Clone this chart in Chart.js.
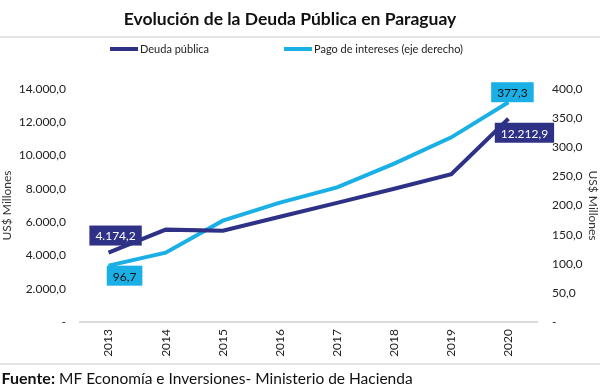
<!DOCTYPE html>
<html>
<head>
<meta charset="utf-8">
<script src="https://cdn.jsdelivr.net/npm/chart.js@4"></script>
<style>
  html, body { margin: 0; padding: 0; background: #fff; }
  #wrap { width: 600px; height: 389px; position: relative; overflow: hidden; }
</style>
</head>
<body>
<div id="wrap"><canvas id="chart"></canvas></div>
<script>
// data
const years = ['2013', '2014', '2015', '2016', '2017', '2018', '2019', '2020'];
const deuda = [4174.2, 5550, 5480, 6320, 7160, 8010, 8880, 12212.9];
const intereses = [96.7, 119, 174, 205, 231, 272, 317, 377.3];

const navy = '#2e3185';
const sky = '#1ab0e6';
const font = 'Lato, "Open Sans", sans-serif';

// 14000 -> "14.000,0", 0 -> "-"
function fmt(v) {
    if (v === 0) return '-';
    const parts = v.toFixed(1).split('.');
    parts[0] = parts[0].replace(/\B(?=(\d{3})+(?!\d))/g, '.');
    return parts[0] + ',' + parts[1];
}

// title, legend, separators and source note
const decor = {
    id: 'decor',
    afterDraw(chart) {
        const ctx = chart.ctx;
        ctx.save();
        ctx.fillStyle = '#e3e3e3';
        ctx.fillRect(0, 36, 600, 2);
        ctx.fillRect(0, 363, 600, 2);

        ctx.fillStyle = '#111';
        ctx.font = 'bold 17.5px ' + font;
        ctx.textAlign = 'center';
        ctx.textBaseline = 'middle';
        ctx.fillText('Evolución de la Deuda Pública en Paraguay', 290, 19);

        // legend
        ctx.font = '11px ' + font;
        ctx.textAlign = 'left';
        const items = [[110, 0], [284, 1]];
        items.forEach(([x, i]) => {
            const ds = chart.data.datasets[i];
            ctx.fillStyle = ds.borderColor;
            ctx.fillRect(x, 47, 28, 4);
            ctx.fillStyle = '#222';
            ctx.fillText(ds.label, x + 30, 49);
        });

        // source (cut at the left edge like the original)
        ctx.textBaseline = 'alphabetic';
        ctx.fillStyle = '#111';
        ctx.font = 'bold 16px ' + font;
        const fw = ctx.measureText('Fuente:').width;
        ctx.fillText('Fuente:', 55 - fw, 384);
        ctx.font = '15.5px ' + font;
        ctx.fillText('MF Economía e Inversiones- Ministerio de Hacienda', 59, 384);
        ctx.restore();
    }
};

// boxed value labels on first and last points
const boxes = {
    id: 'boxes',
    afterDatasetsDraw(chart) {
        const ctx = chart.ctx;
        const spots = [
            { ds: 0, i: 0, dx: 7, dy: -17, bg: navy, fg: '#fff' },
            { ds: 1, i: 0, dx: 16, dy: 10, bg: sky, fg: '#111' },
            { ds: 1, i: 7, dx: 4, dy: -10, bg: sky, fg: '#111' },
            { ds: 0, i: 7, dx: 16, dy: 14, bg: navy, fg: '#fff' }
        ];
        ctx.save();
        ctx.font = '12px ' + font;
        ctx.textAlign = 'center';
        ctx.textBaseline = 'middle';
        spots.forEach(s => {
            const pt = chart.getDatasetMeta(s.ds).data[s.i];
            const txt = fmt(chart.data.datasets[s.ds].data[s.i]);
            const w = ctx.measureText(txt).width + 12;
            const cx = pt.x + s.dx, cy = pt.y + s.dy;
            ctx.fillStyle = s.bg;
            ctx.fillRect(cx - w / 2, cy - 10, w, 20);
            ctx.fillStyle = s.fg;
            ctx.fillText(txt, cx, cy + 1);
        });
        ctx.restore();
    }
};

new Chart(document.getElementById('chart'), {
    type: 'line',
    data: {
        labels: years,
        datasets: [{
            label: 'Deuda pública',
            data: deuda,
            borderColor: navy,
            backgroundColor: navy,
            borderWidth: 4,
            pointRadius: 0,
            yAxisID: 'y'
        }, {
            label: 'Pago de intereses (eje derecho)',
            data: intereses,
            borderColor: sky,
            backgroundColor: sky,
            borderWidth: 4,
            pointRadius: 0,
            yAxisID: 'y1'
        }]
    },
    options: {
        responsive: true,
        maintainAspectRatio: false,
        animation: false,
        layout: { padding: { top: 89, left: 0, right: 0, bottom: 0 } },
        plugins: {
            legend: { display: false },
            title: { display: false },
            tooltip: { enabled: false }
        },
        scales: {
            x: {
                offset: true,
                grid: { display: false, drawTicks: false },
                border: { color: '#d9d9d9', width: 2 },
                ticks: {
                    minRotation: 90, maxRotation: 90, padding: 7,
                    color: '#222', font: { family: font, size: 12 }
                },
                afterFit(s) { s.height = 67; }
            },
            y: {
                position: 'left',
                min: 0, max: 14000,
                grid: { display: false, drawTicks: false },
                border: { display: false },
                ticks: {
                    stepSize: 2000, padding: 14,
                    color: '#222', font: { family: font, size: 12 },
                    callback: v => fmt(v)
                },
                title: {
                    display: true, text: 'US$ Millones', padding: 0,
                    color: '#333', font: { family: font, size: 12 }
                },
                afterFit(s) { s.width = 80; }
            },
            y1: {
                position: 'right',
                min: 0, max: 400,
                grid: { display: false, drawTicks: false },
                border: { display: false },
                ticks: {
                    stepSize: 50, padding: 15,
                    color: '#222', font: { family: font, size: 12 },
                    callback: v => fmt(v)
                },
                title: {
                    display: true, text: 'US$ Millones', padding: 0,
                    color: '#333', font: { family: font, size: 12 }
                },
                afterFit(s) { s.width = 63; }
            }
        }
    },
    plugins: [decor, boxes]
});
</script>
</body>
</html>
